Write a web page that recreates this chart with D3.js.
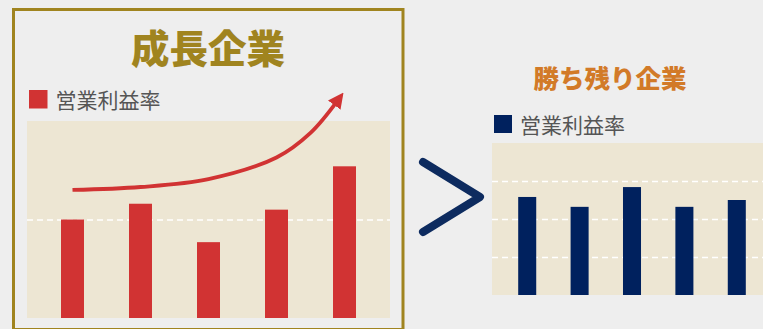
<!DOCTYPE html>
<html lang="ja">
<head>
<meta charset="utf-8">
<title>成長企業と勝ち残り企業</title>
<script src="https://d3js.org/d3.v7.min.js"></script>
<style>
  body { margin: 0; background: #eeeeee; }
  svg { display: block; }
</style>
</head>
<body>
<script>
// data
var periods = ["1", "2", "3", "4", "5"];
var growthValues = [10.0, 11.6, 7.7, 11.0, 15.4];
var survivorValues = [12.9, 11.6, 14.2, 11.6, 12.5];
var growthTicks = [10];
var survivorTicks = [5, 10, 15];
// trend arrow drawn over the growth chart: [bar index, value]
var trendPoints = [[0, 13.0], [1, 13.3], [2, 14.1], [3, 16.3], [3.5, 18.8], [3.89, 22.0]];
var titles = ["成長企業", "勝ち残り企業"];
var legendLabel = "営業利益率";

var w = 763, h = 329;
var font = "'Noto Sans CJK JP', 'Noto Sans', sans-serif";

var svg = d3.select("body").append("svg")
  .attr("width", w)
  .attr("height", h);

svg.append("rect").attr("width", w).attr("height", h).attr("fill", "#eeeeee");

// left frame
svg.append("rect")
  .attr("x", 13.5).attr("y", 9.5)
  .attr("width", 389.5).attr("height", 320)
  .attr("fill", "none")
  .attr("stroke", "#a0841f")
  .attr("stroke-width", 3);

function drawPanel(opt) {
  var g = svg.append("g");

  var x = d3.scaleBand()
    .domain(periods)
    .range(opt.xRange)
    .paddingInner(opt.padIn)
    .paddingOuter(0.5);

  var y = d3.scaleLinear()
    .domain([0, 20])
    .range([opt.bottom, opt.top]);

  g.append("rect")
    .attr("x", opt.bgX[0]).attr("y", opt.top)
    .attr("width", opt.bgX[1] - opt.bgX[0])
    .attr("height", opt.bottom - opt.top)
    .attr("fill", "#ede6d3");

  var yAxis = d3.axisLeft(y)
    .tickValues(opt.ticks)
    .tickSize(-(opt.bgX[1] - opt.bgX[0]))
    .tickFormat("");
  var ax = g.append("g")
    .attr("transform", "translate(" + opt.bgX[0] + ",0)")
    .call(yAxis);
  ax.select(".domain").remove();
  ax.selectAll(".tick line")
    .attr("stroke", "#ffffff")
    .attr("stroke-width", 1.3)
    .attr("stroke-dasharray", "6,4");

  g.selectAll("rect.bar")
    .data(opt.values)
    .enter().append("rect")
    .attr("class", "bar")
    .attr("x", function(d, i) { return x(periods[i]); })
    .attr("y", function(d) { return y(d); })
    .attr("width", x.bandwidth())
    .attr("height", function(d) { return opt.bottom - y(d); })
    .attr("fill", opt.color);

  // legend
  g.append("rect")
    .attr("x", opt.legend[0]).attr("y", opt.legend[1])
    .attr("width", opt.legendSize).attr("height", opt.legendSize)
    .attr("fill", opt.color);
  g.append("text")
    .attr("x", opt.legend[0] + opt.legendSize + 8)
    .attr("y", opt.legend[1] + opt.legendSize / 2)
    .attr("dominant-baseline", "central")
    .attr("font-family", font)
    .attr("font-size", opt.legendFont)
    .attr("fill", "#555555")
    .text(legendLabel);

  // title
  g.append("text")
    .attr("x", opt.titlePos[0]).attr("y", opt.titlePos[1])
    .attr("text-anchor", "middle")
    .attr("dominant-baseline", "central")
    .attr("font-family", font)
    .attr("font-weight", 900)
    .attr("font-size", opt.titleSize)
    .attr("fill", opt.titleColor)
    .text(opt.title);

  return { x: x, y: y, g: g };
}

var left = drawPanel({
  xRange: [27, 390], bgX: [27, 390], top: 121, bottom: 318,
  padIn: 0.662, values: growthValues, ticks: growthTicks, color: "#d13333",
  legend: [29, 90], legendSize: 18.5, legendFont: 21,
  title: titles[0], titlePos: [208, 46], titleSize: 38.5, titleColor: "#a0841f"
});

var right = drawPanel({
  xRange: [492, 772], bgX: [492, 772], top: 143, bottom: 295,
  padIn: 0.656, values: survivorValues, ticks: survivorTicks, color: "#00215e",
  legend: [494, 115], legendSize: 18, legendFont: 21,
  title: titles[1], titlePos: [610, 76], titleSize: 25.5, titleColor: "#d27a28"
});

// trend arrow
var defs = svg.append("defs");
defs.append("marker")
  .attr("id", "head")
  .attr("viewBox", "0 0 10 10")
  .attr("refX", 3).attr("refY", 5)
  .attr("markerWidth", 4.1).attr("markerHeight", 4.1)
  .attr("markerUnits", "strokeWidth")
  .attr("orient", "auto")
  .append("path")
  .attr("d", "M0,0 L10,5 L0,10 Z")
  .attr("fill", "#d13333");

var step = left.x.step();
var x0 = left.x(periods[0]) + left.x.bandwidth() / 2;
var trend = d3.line()
  .x(function(d) { return x0 + d[0] * step; })
  .y(function(d) { return left.y(d[1]); })
  .curve(d3.curveCatmullRom);

svg.append("path")
  .datum(trendPoints)
  .attr("d", trend)
  .attr("fill", "none")
  .attr("stroke", "#d13333")
  .attr("stroke-width", 3.8)
  .attr("marker-end", "url(#head)");

// chevron between panels
var chevron = [[423, 162], [480, 197], [423, 232]];
svg.append("path")
  .attr("d", d3.line()(chevron))
  .attr("fill", "none")
  .attr("stroke", "#0d2b5f")
  .attr("stroke-width", 8)
  .attr("stroke-linecap", "round")
  .attr("stroke-linejoin", "round");
</script>
</body>
</html>
